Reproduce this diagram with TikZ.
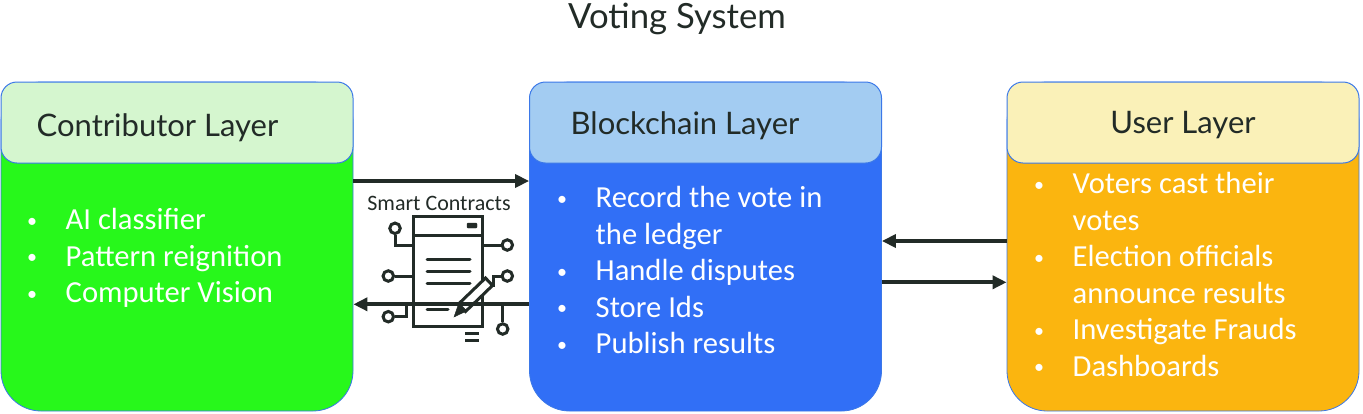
\documentclass[tikz,border=0pt]{standalone}
\usepackage{fontspec}
\setmainfont{Carlito}
\newfontfamily\headfont{Lato}
\usepackage{array}
\usepackage{graphicx}
\usetikzlibrary{arrows.meta,positioning}
\definecolor{inkdark}{HTML}{222B27}
\definecolor{edgeblue}{HTML}{3B78E8}
\definecolor{contribfill}{HTML}{27F81B}
\definecolor{contribhead}{HTML}{D5F6CF}
\definecolor{chainfill}{HTML}{316FF6}
\definecolor{chainhead}{HTML}{A3CCF2}
\definecolor{userfill}{HTML}{FBB50F}
\definecolor{userhead}{HTML}{FAF1B8}
\tikzset{
  layerbody/.style={ draw=edgeblue, line width=0.8pt, rounded corners=40pt, minimum width=352pt, minimum height=329pt },
  layerhead/.style={ draw=edgeblue, line width=1pt, rounded corners=16pt, minimum width=352pt, minimum height=81pt },
  layername/.style={ text=inkdark, font=\headfont\fontsize{31}{36}\selectfont },
  listtext/.style={ anchor=north west, inner sep=0pt, text=white, font=\fontsize{30.6}{36.5}\selectfont },
  flow/.style={ draw=inkdark, line width=4pt, -{Triangle[length=14pt,width=13pt]} },
  iconline/.style={ draw=inkdark, line width=3pt },
  iconpin/.style={ draw=inkdark, line width=3pt, fill=white, circle, inner sep=0pt, minimum size=10.5pt }
}
\newcommand{\dotmark}{\raisebox{2.5pt}{\fontsize{20}{20}\selectfont\textbullet}}
\newcommand{\bulletlist}[1]{\begin{tabular}{@{}>{\centering\arraybackslash}p{12pt}@{\hspace{27.5pt}}l@{}}#1\end{tabular}}
\begin{document}
\begin{tikzpicture}[x=1pt, y=-1pt]
  \useasboundingbox (0, 0) rectangle (1363, 413);
  \node[font=\headfont\fontsize{34.7}{40}\selectfont, text=inkdark] (title) at (677, 19) {Voting System};

  % contributor layer
  \node[layerbody, fill=contribfill] (contrib) at (177, 246.5) {};
  \node[layerhead, fill=contribhead] (contribHead) at (177, 122.5) {};
  \node[layername] (contribName) at (157.5, 128) {Contributor Layer};
  \node[listtext] (contribList) at (26, 204) {\bulletlist{
    \dotmark & AI classifier\\
    \dotmark & Pattern reignition\\
    \dotmark & Computer Vision}};

  % blockchain layer
  \node[layerbody, fill=chainfill] (chain) at (705.5, 246.5) {};
  \node[layerhead, fill=chainhead] (chainHead) at (705.5, 122.5) {};
  \node[layername] (chainName) at (685, 126) {Blockchain Layer};
  \node[listtext] (chainList) at (556, 182) {\bulletlist{
    \dotmark & Record the vote in\\
    & the ledger\\
    \dotmark & Handle disputes\\
    \dotmark & Store Ids\\
    \dotmark & Publish results}};

  % user layer
  \node[layerbody, fill=userfill] (user) at (1183, 246.5) {};
  \node[layerhead, fill=userhead] (userHead) at (1183, 122.5) {};
  \node[layername] (userName) at (1183, 125.5) {User Layer};
  \node[listtext] (userList) at (1033, 168) {\bulletlist{
    \dotmark & Voters cast their\\
    & votes\\
    \dotmark & Election officials\\
    & announce results\\
    \dotmark & Investigate Frauds\\
    \dotmark & Dashboards}};

  % smart contract icon
  \node[font=\fontsize{22}{26}\selectfont, text=inkdark] (smart) at (439, 203) {Smart Contracts};
  \node[iconpin] (pinA) at (395, 228.3) {};
  \node[iconpin] (pinB) at (507.3, 245) {};
  \node[iconpin] (pinC) at (388.3, 276) {};
  \node[iconpin] (pinD) at (507.3, 276) {};
  \node[iconpin] (pinE) at (388.3, 316.7) {};
  \node[iconpin] (pinF) at (502.7, 329) {};
  \draw[iconline] (pinA) |- (413.3, 245);
  \draw[iconline] (pinB) -- (482.3, 245);
  \draw[iconline] (pinC) -- (413.3, 276);
  \draw[iconline] (pinD) -- (493.3, 276) -- (493.3, 287);
  \draw[iconline] (pinE) -| (406, 306);
  \draw[iconline] (pinF) -- (502.7, 304);
  \draw[iconline, fill=white] (413.3, 216.7) rectangle (482.3, 326.7);
  \draw[iconline] (413.3, 235.7) -- (482.3, 235.7);
  \draw[draw=inkdark, fill=inkdark, rounded corners=1pt] (467, 223) rectangle (477, 228);
  \foreach \liney/\lineend in {259/470, 271/470, 283/470, 309.7/448}
    \draw[iconline, line cap=round] (427, \liney) -- (\lineend, \liney);
  \draw[iconline] (465, 333.3) -- (479, 333.3);
  \draw[iconline] (465, 340.7) -- (479, 340.7);
  \draw[iconline, fill=white] (458.5, 304) -- (485.5, 278) -- (492.5, 285.5) -- (465.5, 311.5) -- cycle;
  \draw[draw=inkdark, fill=inkdark] (454, 317) -- (458.5, 304) -- (465.5, 311.5) -- cycle;

  % arrows between layers
  \draw[flow] ([yshift=65.5pt]contrib.east) -- ([yshift=65.5pt]chain.west);
  \draw[flow] ([yshift=-57.8pt]chain.west) -- ([yshift=-57.8pt]contrib.east);
  \draw[flow] ([yshift=5.5pt]user.west) -- ([yshift=5.5pt]chain.east);
  \draw[flow] ([yshift=-35.8pt]chain.east) -- ([yshift=-35.8pt]user.west);
\end{tikzpicture}
\end{document}
